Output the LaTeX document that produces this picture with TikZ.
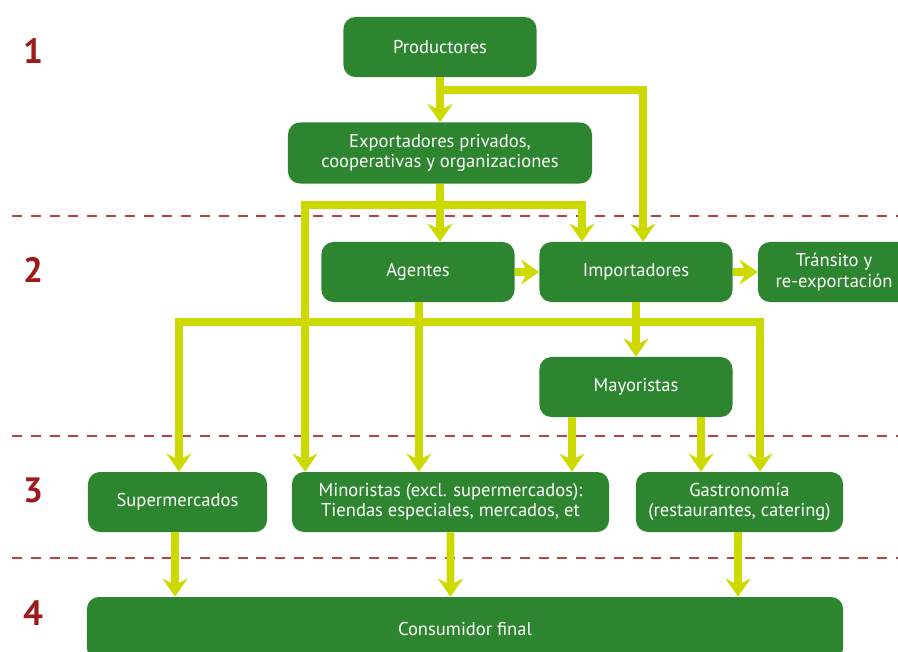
\documentclass[tikz,border=0pt]{standalone}
\usepackage{fontspec}
\setmainfont{PT Sans}
\usepackage{xcolor}
\usepackage{tikz}
\usetikzlibrary{calc,arrows.meta}
\definecolor{BoxGreen}{HTML}{2E8530}
\definecolor{FlowLime}{HTML}{CCDA00}
\definecolor{LevelRed}{HTML}{9E1B1B}
\definecolor{DashRed}{HTML}{B54545}

\begin{document}
\begin{tikzpicture}[x=0.025cm,y=-0.025cm,
  box/.style={fill=BoxGreen,text=white,rounded corners=0.3cm,minimum height=1.5cm,
    align=center,inner sep=0pt,font=\fontsize{13.2}{14.5}\selectfont},
  flow/.style={draw=FlowLime,line width=0.19cm,
    -{Stealth[length=0.45cm,width=0.62cm,inset=0.15cm]}},
  level/.style={text=LevelRed,font=\fontsize{25}{25}\selectfont\bfseries},
  divider/.style={DashRed,line width=1.4pt,dash pattern=on 0.25cm off 0.22cm}]
  \useasboundingbox (0,0) rectangle (898,651);

  % Level lines
  \draw[divider] (12,216) -- (898,216);
  \draw[divider] (12,436) -- (898,436);
  \draw[divider] (12,558) -- (898,558);

  % Level numbers
  \node[level] (l1) at (33,51) {1};
  \node[level] (l2) at (33,270) {2};
  \node[level] (l3) at (33,490) {3};
  \node[level] (l4) at (33,613) {4};

  % Boxes
  \node[box,minimum width=4.825cm] (prod) at (440,47) {Productores};
  \node[box,minimum width=7.6cm,minimum height=1.525cm] (exp) at (440,153)
    {Exportadores privados,\\cooperativas y organizaciones};
  \node[box,minimum width=4.825cm] (ag) at (418,272) {Agentes};
  \node[box,minimum width=4.825cm] (imp) at (636,272) {Importadores};
  \node[box,minimum width=3.8cm] (tra) at (834,272) {Tránsito y\\re-exportación};
  \node[box,minimum width=4.825cm] (may) at (636,387) {Mayoristas};
  \node[box,minimum width=4.475cm] (sup) at (177.5,502) {Supermercados};
  \node[box,minimum width=7.925cm] (min) at (450.5,502)
    {Minoristas (excl. supermercados):\\Tiendas especiales, mercados, et};
  \node[box,minimum width=5.175cm] (gas) at (739.5,502)
    {Gastronomía\\(restaurantes, catering)};
  \node[box,minimum width=18.9cm,minimum height=1.575cm] (con) at (465,628.5)
    {Consumidor final};

  % Forks
  \coordinate (prodfork) at (440,90);
  \coordinate (expfork) at (440,205);
  \coordinate (agbus) at (419,322);

  % Flows 1 -> 2
  \draw[flow] (prod.south) -- (exp.north);
  \draw[flow] (prodfork) -| ($(imp.north)+(7,0)$);
  \draw[flow] (exp.south) -- ($(ag.north)+(22,0)$);
  \draw[flow] (expfork) -| ($(imp.north)+(-54,0)$);
  \draw[flow] (expfork) -| ($(min.north)+(-145.5,0)$);

  % Flows 2 -> 3
  \draw[flow] (ag.east) -- (imp.west);
  \draw[flow] (imp.east) -- (tra.west);
  \draw[flow] ($(ag.south)+(1,0)$) -- ($(min.north)+(-31.5,0)$);
  \draw[flow] (imp.south) -- (may.north);
  \draw[flow] (agbus) -| ($(sup.north)+(1.5,0)$);
  \draw[flow] (agbus) -| ($(gas.north)+(20.5,0)$);
  \draw[flow] ($(may.south)+(-64,0)$) -- ($(min.north)+(121.5,0)$);
  \draw[flow] ($(may.south)+(65,0)$) -- ($(gas.north)+(-38.5,0)$);

  % Flows 3 -> 4
  \draw[flow] ($(sup.south)+(-2.5,0)$) -- ($(con.north)+(-290,0)$);
  \draw[flow] (min.south) -- ($(con.north)+(-14.5,0)$);
  \draw[flow] ($(gas.south)+(-1.5,0)$) -- ($(con.north)+(273,0)$);
\end{tikzpicture}
\end{document}
